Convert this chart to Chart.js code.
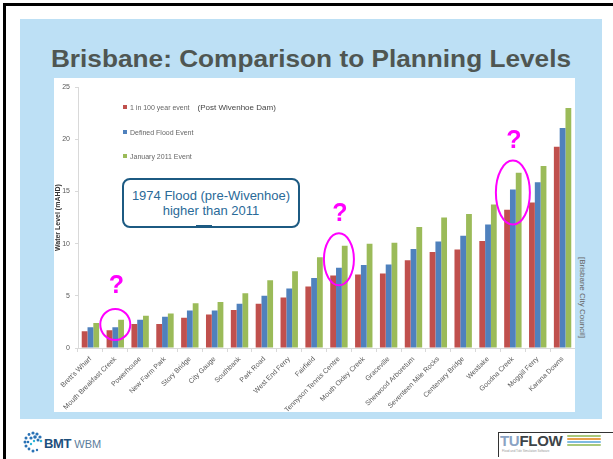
<!DOCTYPE html>
<html>
<head>
<meta charset="utf-8">
<script src="https://cdn.jsdelivr.net/npm/chart.js@4.4.1/dist/chart.umd.min.js"></script>
<style>
  body { margin: 0; width: 613px; height: 459px; position: relative; overflow: hidden; background: #fff; font-family: "Liberation Sans", Arial, sans-serif; }
  .abs { position: absolute; }
  #frameTop { left: 3px; top: 3px; width: 610px; height: 3px; background: #000; }
  #frameLeft { left: 3px; top: 3px; width: 3px; height: 456px; background: #000; }
  #panel { left: 20px; top: 19px; width: 582px; height: 400px; background: #bde0f5; }
  #title { left: 20px; top: 48px; width: 582px; text-align: center; font-weight: bold; font-size: 23px; line-height: 23px; color: #4f5652; transform: scaleX(1.14); }
  #plot { left: 54px; top: 78px; width: 521px; height: 334px; background: #fff; }
  #legend { left: 123px; top: 103px; font-size: 7px; color: #666; }
  #legend div { height: 24.5px; line-height: 10px; white-space: nowrap; }
  #legend span.sw { display: inline-block; width: 4px; height: 4px; margin-right: 3px; vertical-align: 1px; }
  #legend span.note { font-size: 8px; color: #444; margin-left: 8px; }
  #callout { left: 122px; top: 178px; width: 174px; height: 46px; border: 2px solid #1c5a82; border-radius: 8px; color: #2a6a98; font-size: 13px; text-align: center; line-height: 15px; display: flex; flex-direction: column; justify-content: center; background: #fff; }
  #calloutTab { left: 196px; top: 225px; width: 16px; height: 3px; background: #1c5a82; }
  #source { left: 576px; top: 257px; width: 12px; height: 90px; }
  #source span { position: absolute; left: 11px; top: 0; transform-origin: 0 0; transform: rotate(90deg); font-size: 8px; color: #666; white-space: nowrap; }
  #bmt { left: 22px; top: 430px; height: 24px; }
  #bmtText { left: 44px; top: 436px; font-size: 13px; color: #1d4f7c; white-space: nowrap; }
  #bmtText b { letter-spacing: -0.3px; }
  #bmtText span { font-weight: normal; color: #5b7d9c; font-size: 11px; margin-left: 3px; }
  #tuflow { left: 498px; top: 432px; width: 115px; height: 24px; border-top: 1px solid #333; border-left: 1px solid #333; background: #fff; }
  #tuflowText { left: 500px; top: 432px; font-size: 15px; font-weight: bold; color: #3d4448; letter-spacing: -0.3px; }
  #tuflowText span { color: #8aa3c4; }
  #tuflowSub { left: 502px; top: 449px; font-size: 3px; color: #999; white-space: nowrap; }
  .stripe { height: 2px; width: 34px; left: 567px; border-radius: 1px; }
</style>
</head>
<body>
<div id="frameTop" class="abs"></div>
<div id="frameLeft" class="abs"></div>
<div id="panel" class="abs"></div>
<div id="title" class="abs">Brisbane: Comparison to Planning Levels</div>
<div id="plot" class="abs"><canvas id="chart" width="521" height="334"></canvas></div>
<div id="legend" class="abs"></div>
<div id="callout" class="abs"><div>1974 Flood (pre-Wivenhoe)</div><div>higher than 2011</div></div>
<div id="calloutTab" class="abs"></div>
<div id="source" class="abs"><span>[Brisbane City Council]</span></div>

<svg id="bmt" class="abs" width="22" height="24" viewBox="0 0 22 24">
  <g fill="#2a72b5">
    <circle cx="11" cy="3" r="1.6"/><circle cx="15" cy="4" r="1.6"/><circle cx="7" cy="4.5" r="1.4"/>
    <circle cx="18" cy="7" r="1.6"/><circle cx="4" cy="8" r="1.5"/><circle cx="13" cy="7" r="1.8"/>
    <circle cx="9" cy="8" r="1.6"/><circle cx="3" cy="12" r="1.5"/><circle cx="6" cy="12" r="1.3"/>
    <circle cx="4" cy="16" r="1.5"/><circle cx="7" cy="19" r="1.4"/><circle cx="11" cy="21" r="1.5"/>
    <circle cx="15" cy="20" r="1.2"/><circle cx="16" cy="10" r="1.5"/>
  </g>
  <g fill="#2bb5d8"><circle cx="19" cy="11" r="1.3"/><circle cx="9" cy="14" r="1.2"/><circle cx="12" cy="11" r="1.2"/></g>
</svg>
<div id="bmtText" class="abs"><b>BMT</b><span>WBM</span></div>
<div id="tuflow" class="abs"></div>
<div id="tuflowText" class="abs"><span>TU</span>FLOW</div>
<div id="tuflowSub" class="abs">Flood and Tide Simulation Software</div>
<div class="abs stripe" style="top:435px;background:#a9c97a"></div>
<div class="abs stripe" style="top:438px;background:#e9a04a"></div>
<div class="abs stripe" style="top:441px;background:#7fbbe2"></div>
<div class="abs stripe" style="top:444px;background:#a9c97a"></div>

<script>
// sites along the river, downstream to upstream
const sites = [
  "Brett's Wharf", 'Mouth Breakfast Creek', 'Powerhouse', 'New Farm Park', 'Story Bridge',
  'City Gauge', 'Southbank', 'Park Road', 'West End Ferry', 'Fairfield',
  'Tennyson Tennis Centre', 'Mouth Oxley Creek', 'Graceville', 'Sherwood Arboretum', 'Seventeen Mile Rocks',
  'Centenary Bridge', 'Westlake', 'Goodna Creek', 'Moggill Ferry', 'Karana Downs'
];

// water levels, mAHD
const level100yr = [1.6, 1.7, 2.3, 2.3, 2.9, 3.2, 3.65, 4.25, 4.85, 5.9, 6.95, 7.05, 7.15, 8.4, 9.2, 9.45, 10.25, 13.25, 13.95, 19.3];
const levelDFE   = [2.0, 2.0, 2.7, 3.0, 3.6, 3.6, 4.25, 5.0, 5.7, 6.7, 7.7, 7.95, 8.0, 9.5, 10.2, 10.75, 11.85, 15.2, 15.9, 21.1];
const level2011  = [2.4, 2.7, 3.1, 3.3, 4.3, 4.4, 5.25, 6.5, 7.35, 8.7, 9.8, 10.0, 10.1, 11.6, 12.5, 12.85, 13.75, 16.8, 17.45, 23.0];

const seriesNames = ['1 in 100 year event', 'Defined Flood Event', 'January 2011 Event'];
const seriesColors = ['#c0504d', '#4f81bd', '#9bbb59'];
const yMax = 25;
const yStep = 5;

// magenta question marks drawn over the bars
const queries = [
  { site: 1, centre: 2.25, rx: 15, ry: 15.5, mark: 5.9 },
  { site: 10, centre: 8.5, rx: 15, ry: 26, mark: 12.8 },
  { site: 17, centre: 14.9, rx: 17, ry: 32, mark: 19.8 }
];

const legendEl = document.getElementById('legend');
seriesNames.forEach((name, i) => {
  const row = document.createElement('div');
  row.innerHTML = '<span class="sw" style="background:' + seriesColors[i] + '"></span>' + name +
    (i === 0 ? '<span class="note">(Post Wivenhoe Dam)</span>' : '');
  legendEl.appendChild(row);
});

const queryPlugin = {
  id: 'queries',
  afterDatasetsDraw(chart) {
    const { ctx, scales: { x, y } } = chart;
    ctx.save();
    ctx.strokeStyle = '#ff00ff';
    ctx.fillStyle = '#ff00ff';
    ctx.lineWidth = 2;
    ctx.font = 'bold 25px "Liberation Sans", Arial, sans-serif';
    ctx.textAlign = 'center';
    ctx.textBaseline = 'middle';
    queries.forEach(q => {
      const cx = x.getPixelForValue(q.site);
      ctx.beginPath();
      ctx.ellipse(cx, y.getPixelForValue(q.centre), q.rx, q.ry, 0, 0, Math.PI * 2);
      ctx.stroke();
      ctx.fillText('?', cx + 1, y.getPixelForValue(q.mark));
    });
    ctx.restore();
  }
};

const datasets = [level100yr, levelDFE, level2011].map((values, i) => ({
  label: seriesNames[i],
  data: values,
  backgroundColor: seriesColors[i],
  categoryPercentage: 0.7,
  barPercentage: 1.0
}));

new Chart(document.getElementById('chart'), {
  type: 'bar',
  data: { labels: sites, datasets },
  plugins: [queryPlugin],
  options: {
    responsive: false,
    animation: false,
    layout: { padding: { top: 5, right: 0, left: 0, bottom: 0 } },
    plugins: {
      legend: { display: false },
      tooltip: { enabled: false }
    },
    scales: {
      x: {
        border: { color: '#d9d9d9' },
        grid: { display: true, drawOnChartArea: false, color: '#d9d9d9', tickLength: 4, offset: true },
        ticks: {
          autoSkip: false, minRotation: 45, maxRotation: 45, padding: 3,
          color: '#595959', font: { family: '"Liberation Sans", Arial, sans-serif', size: 7 }
        },
        afterFit(scale) { scale.height = 64; }
      },
      y: {
        min: 0, max: yMax,
        border: { color: '#d9d9d9' },
        grid: { display: true, drawOnChartArea: false, color: '#d9d9d9', tickLength: 3 },
        ticks: {
          stepSize: yStep, padding: 5,
          color: '#595959', font: { family: '"Liberation Sans", Arial, sans-serif', size: 7 }
        },
        title: {
          display: true, text: 'Water Level (mAHD)', padding: 0,
          color: '#333', font: { family: '"Liberation Sans", Arial, sans-serif', size: 7, weight: 'bold' }
        },
        afterFit(scale) { scale.width = 24; }
      }
    }
  }
});
</script>
</body>
</html>
